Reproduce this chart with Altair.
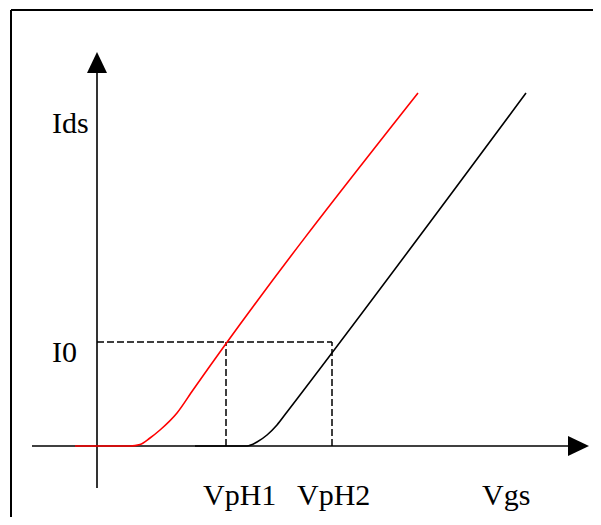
import altair as alt
import pandas as pd

# Transfer curves (Vgs, Ids)
red_vgs = [-0.22, 0.33, 0.43, 0.53, 0.63, 0.80, 0.96, 3.21]
red_ids = [0.0, 0.0, 0.015, 0.08, 0.16, 0.33, 0.56, 3.53]
black_vgs = [0.98, 1.50, 1.60, 1.70, 1.80, 1.90, 2.03, 4.29]
black_ids = [0.0, 0.0, 0.04, 0.11, 0.21, 0.34, 0.51, 3.53]

I0 = 1.04
VpH1 = 1.29
VpH2 = 2.35

# axis extents (arrows)
x_axis_start, x_axis_end = -0.65, 4.80
y_axis_start, y_axis_end = -0.42, 3.80
x_arrow = 4.815
y_arrow = 3.835

# frame
frame_left = -0.86
frame_top = 4.36

label_text = ["Ids", "I0", "VpH1", "VpH2", "Vgs"]
label_x = [-0.45, -0.45, 1.06, 2.00, 3.85]
label_y = [3.13, 0.84, -0.59, -0.59, -0.59]

XDOM = [-0.89, 4.96]
YDOM = [-0.71, 4.38]

xs = alt.Scale(domain=XDOM, nice=False, zero=False)
ys = alt.Scale(domain=YDOM, nice=False, zero=False)

curves = pd.DataFrame(
    {"vgs": red_vgs + black_vgs,
     "ids": red_ids + black_ids,
     "curve": ["red"] * len(red_vgs) + ["black"] * len(black_vgs)}
)

curve_layer = alt.Chart(curves).mark_line(interpolate="monotone", strokeWidth=1.6, clip=True).encode(
    x=alt.X("vgs:Q", scale=xs, axis=None),
    y=alt.Y("ids:Q", scale=ys, axis=None),
    color=alt.Color("curve:N", scale=alt.Scale(domain=["red", "black"], range=["#ff0000", "#000000"]), legend=None),
    detail="curve:N",
)

# axes lines
axes_df = pd.DataFrame({
    "x": [x_axis_start, 0.0], "x2": [x_axis_end, 0.0],
    "y": [0.0, y_axis_start], "y2": [0.0, y_axis_end],
})
axes_layer = alt.Chart(axes_df).mark_rule(color="black", strokeWidth=1.6).encode(
    x=alt.X("x:Q", scale=xs, axis=None), x2="x2:Q",
    y=alt.Y("y:Q", scale=ys, axis=None), y2="y2:Q",
)

# frame
frame_df = pd.DataFrame({
    "x": [frame_left, frame_left], "x2": [frame_left, XDOM[1]],
    "y": [YDOM[0], frame_top], "y2": [frame_top, frame_top],
})
frame_layer = alt.Chart(frame_df).mark_rule(color="black", strokeWidth=2).encode(
    x=alt.X("x:Q", scale=xs, axis=None), x2="x2:Q",
    y=alt.Y("y:Q", scale=ys, axis=None), y2="y2:Q",
)

# dashed guides
dash_df = pd.DataFrame({
    "x": [0.0, VpH1, VpH2], "x2": [VpH2, VpH1, VpH2],
    "y": [I0, 0.0, 0.0], "y2": [I0, I0, I0],
})
dash_layer = alt.Chart(dash_df).mark_rule(color="black", strokeWidth=1.5, strokeDash=[7, 3]).encode(
    x=alt.X("x:Q", scale=xs, axis=None), x2="x2:Q",
    y=alt.Y("y:Q", scale=ys, axis=None), y2="y2:Q",
)

# arrow heads
up_df = pd.DataFrame({"x": [0.0], "y": [y_arrow]})
up_arrow = alt.Chart(up_df).mark_point(
    shape="M-1,1.05L0,-1.05L1,1.05Z", size=400, filled=True, color="black", opacity=1
).encode(x=alt.X("x:Q", scale=xs, axis=None), y=alt.Y("y:Q", scale=ys, axis=None))

right_df = pd.DataFrame({"x": [x_arrow], "y": [0.0]})
right_arrow = alt.Chart(right_df).mark_point(
    shape="M-1.05,-1L1.05,0L-1.05,1Z", size=400, filled=True, color="black", opacity=1
).encode(x=alt.X("x:Q", scale=xs, axis=None), y=alt.Y("y:Q", scale=ys, axis=None))

labels_df = pd.DataFrame({"label": label_text, "x": label_x, "y": label_y})
labels = alt.Chart(labels_df).mark_text(
    font="Liberation Serif", fontSize=30, align="left", baseline="alphabetic", color="black"
).encode(
    x=alt.X("x:Q", scale=xs, axis=None),
    y=alt.Y("y:Q", scale=ys, axis=None),
    text="label:N",
)

chart = alt.layer(
    frame_layer, dash_layer, axes_layer, curve_layer, up_arrow, right_arrow, labels
).properties(
    width=585, height=509, padding=0, autosize=alt.AutoSizeParams(type="none"),
    background="white",
).configure_view(stroke=None)

chart.save("out.html", embed_options={"renderer": "svg", "actions": False})
